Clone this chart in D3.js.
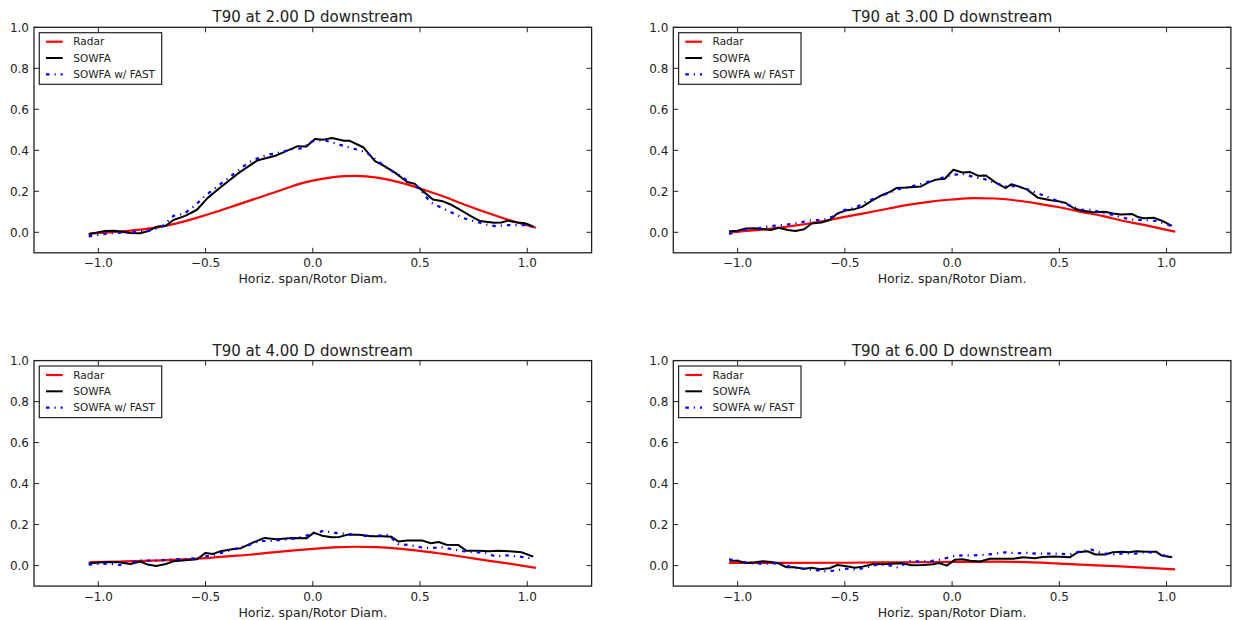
<!DOCTYPE html>
<html>
<head>
<meta charset="utf-8">
<script src="https://cdnjs.cloudflare.com/ajax/libs/d3/7.8.5/d3.min.js"></script>
<style>
  body { margin: 0; background: #fff; }
  svg { display: block; font-family: "DejaVu Sans", sans-serif; }
</style>
</head>
<body>
<svg id="chart" width="1233" height="620"></svg>
<script>
// panel titles and tick values
const titles = ["T90 at 2.00 D downstream", "T90 at 3.00 D downstream",
                "T90 at 4.00 D downstream", "T90 at 6.00 D downstream"];
const xTicks = [-1.0, -0.5, 0.0, 0.5, 1.0];
const yTicks = [0.0, 0.2, 0.4, 0.6, 0.8, 1.0];
const seriesNames = ["Radar", "SOWFA", "SOWFA w/ FAST"];

// 2 D downstream
const radar2 = [[-1.04,-0.005],[-0.95,0.0],[-0.85,0.008],[-0.75,0.02],[-0.65,0.04],[-0.55,0.068],[-0.45,0.1],
  [-0.35,0.135],[-0.25,0.17],[-0.15,0.205],[-0.05,0.24],[0.05,0.262],[0.15,0.274],[0.2,0.275],[0.3,0.267],
  [0.4,0.245],[0.5,0.214],[0.6,0.178],[0.7,0.138],[0.8,0.1],[0.9,0.065],[1.04,0.022]];
const sowfa2 = [[-1.045,-0.01],[-0.97,0.006],[-0.925,0.008],[-0.85,-0.003],[-0.805,-0.005],[-0.77,0.005],
  [-0.73,0.027],[-0.685,0.032],[-0.65,0.06],[-0.595,0.08],[-0.54,0.11],[-0.49,0.168],[-0.43,0.22],[-0.345,0.29],
  [-0.26,0.35],[-0.17,0.375],[-0.07,0.42],[-0.03,0.418],[0.01,0.455],[0.05,0.452],[0.09,0.46],[0.145,0.447],
  [0.17,0.447],[0.235,0.415],[0.29,0.347],[0.33,0.325],[0.385,0.29],[0.44,0.245],[0.475,0.237],[0.5,0.213],
  [0.56,0.16],[0.605,0.152],[0.64,0.137],[0.69,0.108],[0.735,0.08],[0.78,0.055],[0.845,0.047],[0.88,0.048],
  [0.91,0.057],[0.955,0.048],[0.99,0.044],[1.03,0.027]];
const fast2 = [[-1.045,-0.02],[-0.95,-0.005],[-0.85,0.0],[-0.75,0.01],[-0.7,0.03],[-0.65,0.08],[-0.6,0.09],
  [-0.55,0.13],[-0.5,0.18],[-0.45,0.22],[-0.4,0.26],[-0.35,0.3],[-0.3,0.34],[-0.25,0.365],[-0.2,0.38],
  [-0.15,0.39],[-0.1,0.405],[-0.05,0.41],[0.0,0.445],[0.05,0.45],[0.1,0.435],[0.15,0.42],[0.2,0.405],
  [0.25,0.39],[0.3,0.35],[0.35,0.31],[0.4,0.28],[0.45,0.245],[0.5,0.21],[0.55,0.145],[0.6,0.12],[0.65,0.095],
  [0.7,0.07],[0.75,0.055],[0.8,0.04],[0.85,0.03],[0.9,0.035],[0.95,0.035],[1.0,0.035],[1.03,0.02]];

// 3 D downstream
const radar3 = [[-1.04,0.0],[-0.9,0.012],[-0.75,0.03],[-0.6,0.055],[-0.5,0.075],[-0.4,0.095],[-0.3,0.115],
  [-0.2,0.135],[-0.1,0.15],[0.0,0.16],[0.1,0.167],[0.2,0.165],[0.3,0.155],[0.4,0.14],[0.5,0.122],[0.6,0.1],
  [0.7,0.08],[0.8,0.055],[0.9,0.035],[1.04,0.003]];
const sowfa3 = [[-1.04,0.005],[-1.0,0.008],[-0.965,0.018],[-0.92,0.02],[-0.845,0.011],[-0.81,0.022],
  [-0.765,0.011],[-0.73,0.006],[-0.69,0.015],[-0.655,0.043],[-0.61,0.048],[-0.57,0.06],[-0.535,0.092],
  [-0.49,0.108],[-0.455,0.113],[-0.42,0.124],[-0.37,0.157],[-0.325,0.182],[-0.29,0.197],[-0.26,0.216],
  [-0.215,0.218],[-0.145,0.224],[-0.107,0.245],[-0.07,0.258],[-0.034,0.261],[0.006,0.305],[0.048,0.292],
  [0.085,0.294],[0.12,0.276],[0.158,0.277],[0.2,0.245],[0.25,0.216],[0.276,0.234],[0.31,0.224],[0.35,0.208],
  [0.4,0.169],[0.46,0.156],[0.495,0.152],[0.53,0.143],[0.57,0.116],[0.605,0.105],[0.66,0.098],[0.713,0.1],
  [0.75,0.092],[0.786,0.087],[0.84,0.089],[0.87,0.073],[0.895,0.069],[0.94,0.071],[0.98,0.056],[1.025,0.031]];
const fast3 = [[-1.04,-0.008],[-1.0,0.003],[-0.95,0.016],[-0.9,0.02],[-0.85,0.03],[-0.8,0.035],[-0.75,0.04],
  [-0.7,0.05],[-0.65,0.06],[-0.6,0.06],[-0.55,0.08],[-0.5,0.11],[-0.45,0.12],[-0.4,0.15],[-0.35,0.17],
  [-0.3,0.19],[-0.25,0.21],[-0.2,0.22],[-0.15,0.235],[-0.1,0.25],[-0.05,0.265],[0.0,0.28],[0.05,0.285],
  [0.1,0.27],[0.15,0.26],[0.2,0.24],[0.25,0.225],[0.3,0.225],[0.35,0.21],[0.4,0.19],[0.45,0.17],[0.5,0.15],
  [0.55,0.13],[0.6,0.11],[0.65,0.11],[0.7,0.095],[0.75,0.085],[0.8,0.07],[0.85,0.06],[0.9,0.06],[0.95,0.055],
  [1.0,0.04],[1.03,0.025]];

// 4 D downstream
const radar4 = [[-1.04,0.017],[-0.9,0.02],[-0.75,0.024],[-0.6,0.03],[-0.5,0.036],[-0.4,0.045],[-0.3,0.053],
  [-0.2,0.063],[-0.1,0.073],[0.0,0.082],[0.1,0.089],[0.2,0.092],[0.3,0.09],[0.4,0.083],[0.5,0.072],
  [0.6,0.058],[0.7,0.043],[0.8,0.027],[0.9,0.012],[1.04,-0.011]];
const sowfa4 = [[-1.045,0.011],[-0.96,0.018],[-0.905,0.016],[-0.85,0.008],[-0.805,0.02],[-0.77,0.005],
  [-0.73,-0.002],[-0.685,0.008],[-0.65,0.021],[-0.595,0.026],[-0.54,0.031],[-0.5,0.062],[-0.465,0.057],
  [-0.43,0.07],[-0.37,0.081],[-0.335,0.085],[-0.28,0.112],[-0.225,0.135],[-0.17,0.128],[-0.095,0.135],
  [-0.03,0.133],[0.005,0.161],[0.042,0.146],[0.088,0.138],[0.125,0.14],[0.162,0.151],[0.217,0.15],
  [0.273,0.143],[0.328,0.143],[0.365,0.141],[0.4,0.117],[0.44,0.122],[0.512,0.122],[0.55,0.109],
  [0.587,0.115],[0.623,0.102],[0.678,0.101],[0.715,0.073],[0.77,0.073],[0.826,0.07],[0.863,0.073],
  [0.918,0.07],[0.973,0.065],[1.028,0.044]];
const fast4 = [[-1.045,0.005],[-0.95,0.01],[-0.9,0.003],[-0.85,0.015],[-0.8,0.025],[-0.75,0.025],[-0.7,0.027],
  [-0.65,0.03],[-0.6,0.033],[-0.55,0.035],[-0.5,0.045],[-0.45,0.055],[-0.4,0.07],[-0.35,0.085],[-0.3,0.1],
  [-0.25,0.12],[-0.2,0.12],[-0.15,0.125],[-0.1,0.13],[-0.05,0.14],[0.0,0.155],[0.05,0.17],[0.1,0.16],
  [0.15,0.155],[0.2,0.15],[0.25,0.145],[0.3,0.145],[0.35,0.15],[0.4,0.105],[0.45,0.1],[0.5,0.09],[0.55,0.085],
  [0.6,0.09],[0.65,0.08],[0.7,0.07],[0.75,0.065],[0.8,0.065],[0.85,0.045],[0.9,0.05],[0.95,0.045],[1.0,0.04],
  [1.03,0.03]];

// 6 D downstream
const radar6 = [[-1.04,0.013],[-0.8,0.013],[-0.5,0.014],[-0.25,0.016],[0.0,0.018],[0.2,0.019],[0.35,0.017],
  [0.5,0.01],[0.7,0.0],[0.85,-0.007],[1.04,-0.018]];
const sowfa6 = [[-1.037,0.024],[-1.0,0.024],[-0.964,0.013],[-0.918,0.016],[-0.882,0.021],[-0.845,0.018],
  [-0.81,0.011],[-0.772,-0.008],[-0.736,-0.008],[-0.69,-0.015],[-0.654,-0.01],[-0.617,-0.018],[-0.572,-0.013],
  [-0.535,0.003],[-0.499,-0.002],[-0.453,-0.011],[-0.417,-0.005],[-0.371,0.007],[-0.307,0.008],[-0.234,0.011],
  [-0.189,0.002],[-0.134,0.003],[-0.088,0.007],[-0.061,0.013],[-0.025,0.0],[0.012,0.028],[0.048,0.031],
  [0.085,0.024],[0.13,0.02],[0.176,0.033],[0.23,0.033],[0.285,0.033],[0.331,0.041],[0.385,0.036],[0.422,0.042],
  [0.477,0.044],[0.55,0.041],[0.586,0.065],[0.632,0.07],[0.668,0.054],[0.714,0.054],[0.75,0.065],[0.796,0.067],
  [0.823,0.065],[0.86,0.07],[0.905,0.068],[0.951,0.068],[0.978,0.049],[1.024,0.041]];
const fast6 = [[-1.04,0.03],[-1.0,0.025],[-0.95,0.012],[-0.9,0.01],[-0.85,0.01],[-0.8,0.012],[-0.75,-0.008],
  [-0.7,-0.015],[-0.65,-0.02],[-0.6,-0.028],[-0.55,-0.025],[-0.5,-0.015],[-0.45,-0.02],[-0.4,-0.01],
  [-0.35,0.005],[-0.3,0.003],[-0.25,-0.01],[-0.2,0.022],[-0.15,0.02],[-0.1,0.022],[-0.05,0.03],[0.0,0.045],
  [0.05,0.05],[0.1,0.05],[0.15,0.052],[0.2,0.058],[0.25,0.065],[0.3,0.06],[0.35,0.062],[0.4,0.058],
  [0.45,0.058],[0.5,0.058],[0.55,0.055],[0.6,0.07],[0.65,0.078],[0.7,0.06],[0.75,0.055],[0.8,0.06],
  [0.85,0.058],[0.9,0.065],[0.95,0.065],[1.0,0.045],[1.03,0.042]];

const panels = [
  { title: titles[0], radar: radar2, sowfa: sowfa2, fast: fast2, x: 34, y: 27.3 },
  { title: titles[1], radar: radar3, sowfa: sowfa3, fast: fast3, x: 673.3, y: 27.3 },
  { title: titles[2], radar: radar4, sowfa: sowfa4, fast: fast4, x: 34, y: 360.6 },
  { title: titles[3], radar: radar6, sowfa: sowfa6, fast: fast6, x: 673.3, y: 360.6 }
];

const W = 557.6, H = 225.5;
const svg = d3.select('#chart');
const fmt = v => d3.format('.1f')(v).replace('-', '\u2212');

const styles = [
  { color: '#ff0000', width: 2.2, dash: null },
  { color: '#000000', width: 2.0, dash: null },
  { color: '#0000ff', width: 2.2, dash: '3.5,5,1.2,5' }
];

panels.forEach(p => {
  const g = svg.append('g').attr('transform', `translate(${p.x},${p.y})`);
  const x = d3.scaleLinear().domain([-1.3, 1.3]).range([0, W]);
  const y = d3.scaleLinear().domain([-0.1, 1.0]).range([H, 0]);

  // ticks pointing inward on all four sides
  const tk = 5;
  const ticks = g.append('g').attr('stroke', '#222').attr('stroke-width', 1);
  xTicks.forEach(v => {
    ticks.append('line').attr('x1', x(v)).attr('x2', x(v)).attr('y1', H).attr('y2', H - tk);
    ticks.append('line').attr('x1', x(v)).attr('x2', x(v)).attr('y1', 0).attr('y2', tk);
  });
  yTicks.forEach(v => {
    ticks.append('line').attr('x1', 0).attr('x2', tk).attr('y1', y(v)).attr('y2', y(v));
    ticks.append('line').attr('x1', W).attr('x2', W - tk).attr('y1', y(v)).attr('y2', y(v));
  });

  g.selectAll('.xt').data(xTicks).enter().append('text')
    .attr('x', d => x(d)).attr('y', H + 14.5)
    .attr('text-anchor', 'middle').attr('font-size', 12).attr('fill', '#222')
    .text(fmt);
  g.selectAll('.yt').data(yTicks).enter().append('text')
    .attr('x', -5).attr('y', d => y(d) + 4.3)
    .attr('text-anchor', 'end').attr('font-size', 12).attr('fill', '#222')
    .text(fmt);

  g.append('text').attr('x', W / 2).attr('y', H + 30.5)
    .attr('text-anchor', 'middle').attr('font-size', 12.5).attr('fill', '#222')
    .text('Horiz. span/Rotor Diam.');
  g.append('text').attr('x', W / 2).attr('y', -5)
    .attr('text-anchor', 'middle').attr('font-size', 15).attr('fill', '#222')
    .text(p.title);

  // lines
  const lineSmooth = d3.line().x(d => x(d[0])).y(d => y(d[1])).curve(d3.curveMonotoneX);
  const lineRaw = d3.line().x(d => x(d[0])).y(d => y(d[1]));
  [p.radar, p.sowfa, p.fast].forEach((data, i) => {
    g.append('path').datum(data)
      .attr('d', i === 0 ? lineSmooth : lineRaw)
      .attr('fill', 'none')
      .attr('stroke', styles[i].color)
      .attr('stroke-width', styles[i].width)
      .attr('stroke-linejoin', 'round')
      .attr('stroke-dasharray', styles[i].dash);
  });

  // frame
  g.append('rect').attr('width', W).attr('height', H)
    .attr('fill', 'none').attr('stroke', '#222').attr('stroke-width', 1.3);

  // legend
  const lg = g.append('g').attr('transform', 'translate(5.3,5.4)');
  lg.append('rect').attr('width', 122.4).attr('height', 51.6)
    .attr('fill', '#fff').attr('stroke', '#222').attr('stroke-width', 1.2);
  seriesNames.forEach((name, i) => {
    const cy = 9 + i * 16.3;
    lg.append('line').attr('x1', 6.7).attr('x2', 23.4).attr('y1', cy).attr('y2', cy)
      .attr('stroke', styles[i].color).attr('stroke-width', styles[i].width)
      .attr('stroke-dasharray', styles[i].dash);
    lg.append('text').attr('x', 34).attr('y', cy + 3.8)
      .attr('font-size', 10.5).attr('fill', '#222').text(name);
  });
});
</script>
</body>
</html>
